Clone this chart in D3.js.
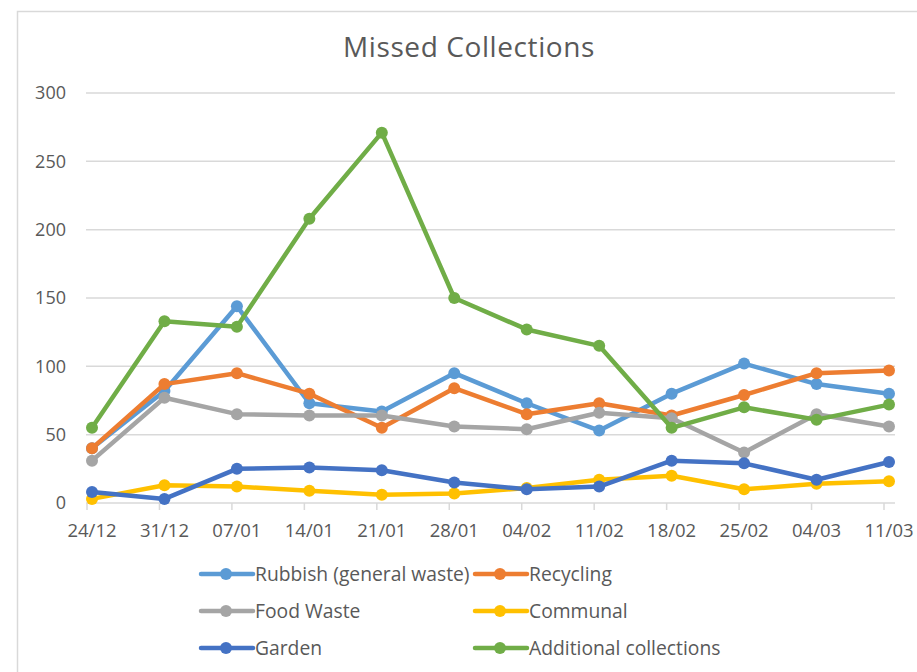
<!DOCTYPE html>
<html lang="en">
<head>
    <meta charset="UTF-8">
    <title>Missed Collections</title>
    <script src="https://d3js.org/d3.v7.min.js"></script>
    <style>
        body { margin: 0; background: #fff; }
        svg text { font-family: "Open Sans", "Noto Sans", sans-serif; fill: #595959; }
    </style>
</head>
<body>
    <svg width="917" height="672"></svg>

    <script>
        // Chart data
        const weeks = ["24/12", "31/12", "07/01", "14/01", "21/01", "28/01", "04/02", "11/02", "18/02", "25/02", "04/03", "11/03"];
        const seriesNames = ["Rubbish (general waste)", "Recycling", "Food Waste", "Communal", "Garden", "Additional collections"];
        const rubbish    = [40, 82, 144, 73, 67, 95, 73, 53, 80, 102, 87, 80];
        const recycling  = [40, 87, 95, 80, 55, 84, 65, 73, 64, 79, 95, 97];
        const foodWaste  = [31, 77, 65, 64, 64, 56, 54, 66, 62, 37, 65, 56];
        const communal   = [3, 13, 12, 9, 6, 7, 11, 17, 20, 10, 14, 16];
        const garden     = [8, 3, 25, 26, 24, 15, 10, 12, 31, 29, 17, 30];
        const additional = [55, 133, 129, 208, 271, 150, 127, 115, 55, 70, 61, 72];
        const yTicks = [0, 50, 100, 150, 200, 250, 300];

        const colours = ["#5B9BD5", "#ED7D31", "#A5A5A5", "#FFC000", "#4472C4", "#70AD47"];
        const series = [rubbish, recycling, foodWaste, communal, garden, additional]
            .map((values, i) => ({ name: seriesNames[i], values: values, colour: colours[i] }));

        const svg = d3.select("svg");

        // chart frame
        svg.append("rect")
           .attr("x", 17.5).attr("y", 11.5)
           .attr("width", 960).attr("height", 720)
           .attr("fill", "none")
           .attr("stroke", "#d9d9d9")
           .attr("stroke-width", 1.5);

        // title
        svg.append("text")
           .attr("x", 469).attr("y", 57)
           .attr("text-anchor", "middle")
           .style("font-size", "28px")
           .style("letter-spacing", "0.6px")
           .text("Missed Collections");

        // scales
        const x = d3.scalePoint().domain(weeks).range([92, 889]);
        const y = d3.scaleLinear().domain([0, 300]).range([503, 93]);
        const plotLeft = 86, plotRight = 895;

        // gridlines
        svg.append("g")
           .selectAll("line")
           .data(yTicks)
           .join("line")
           .attr("x1", plotLeft).attr("x2", plotRight)
           .attr("y1", d => y(d)).attr("y2", d => y(d))
           .attr("stroke", "#d9d9d9")
           .attr("stroke-width", 1.5);

        // y labels
        svg.append("g")
           .selectAll("text")
           .data(yTicks)
           .join("text")
           .attr("x", 66)
           .attr("y", d => y(d))
           .attr("dy", "0.35em")
           .attr("text-anchor", "end")
           .style("font-size", "18px")
           .text(d => d);

        // x tick marks (slightly left of the points, as in the original)
        svg.append("g")
           .selectAll("line")
           .data(weeks)
           .join("line")
           .attr("x1", d => x(d) - 5).attr("x2", d => x(d) - 5)
           .attr("y1", y(0)).attr("y2", y(0) + 7)
           .attr("stroke", "#d9d9d9")
           .attr("stroke-width", 1.5);

        // x labels
        svg.append("g")
           .selectAll("text")
           .data(weeks)
           .join("text")
           .attr("x", d => x(d))
           .attr("y", 537)
           .attr("text-anchor", "middle")
           .style("font-size", "18.5px")
           .text(d => d);

        // lines + markers
        const line = d3.line()
                       .x((d, i) => x(weeks[i]))
                       .y(d => y(d));

        series.forEach(s => {
            const g = svg.append("g");
            g.append("path")
             .attr("d", line(s.values))
             .attr("fill", "none")
             .attr("stroke", s.colour)
             .attr("stroke-width", 4.5)
             .attr("stroke-linejoin", "round")
             .attr("stroke-linecap", "round");
            g.selectAll("circle")
             .data(s.values)
             .join("circle")
             .attr("cx", (d, i) => x(weeks[i]))
             .attr("cy", d => y(d))
             .attr("r", 6)
             .attr("fill", s.colour);
        });

        // legend, two columns
        const legendCols = [201, 475];
        const legendRows = [574, 611, 648];
        const legend = svg.append("g")
                          .selectAll("g")
                          .data(series)
                          .join("g")
                          .attr("transform", (d, i) => `translate(${legendCols[i % 2]},${legendRows[Math.floor(i / 2)]})`);

        legend.append("line")
              .attr("x1", 0).attr("x2", 52)
              .attr("stroke", d => d.colour)
              .attr("stroke-width", 4.5)
              .attr("stroke-linecap", "round");

        legend.append("circle")
              .attr("cx", 25).attr("r", 6)
              .attr("fill", d => d.colour);

        legend.append("text")
              .attr("x", 54)
              .attr("dy", "0.35em")
              .style("font-size", "19.3px")
              .text(d => d.name);
    </script>
</body>
</html>
